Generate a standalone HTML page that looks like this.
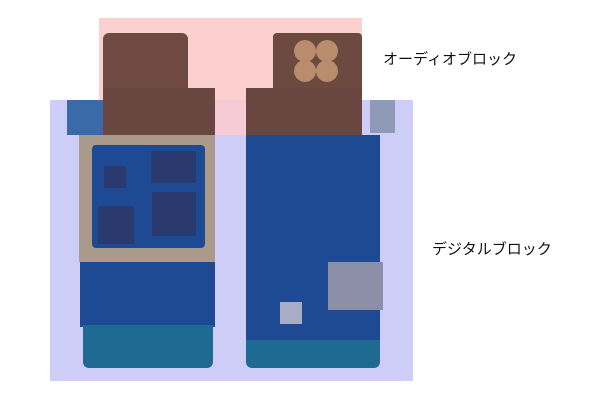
<!DOCTYPE html>
<html><head><meta charset="utf-8"><style>
body{margin:0;width:600px;height:400px;background:#fff;position:relative;overflow:hidden;font-family:"Liberation Sans","Noto Sans CJK JP",sans-serif}
div{position:absolute}
.t{font-size:15px;color:#111;white-space:nowrap}
</style></head><body>
<div style="left:99px;top:18px;width:263px;height:82px;background:#fdd0d0"></div>
<div style="left:50px;top:100px;width:363px;height:281px;background:#cdcdf8"></div>
<div style="left:99px;top:100px;width:263px;height:35px;background:#f6cbd6"></div>
<!-- left board -->
<div style="left:103px;top:33px;width:85px;height:60px;background:#6e4a42;border-radius:6px 6px 0 0"></div>
<div style="left:103px;top:88px;width:112px;height:47px;background:#6a4640"></div>
<div style="left:67px;top:100px;width:36px;height:35px;background:#3a6aa8"></div>
<div style="left:79px;top:135px;width:136px;height:127px;background:#a99a8c"></div>
<div style="left:92px;top:145px;width:113px;height:103px;background:#1e4a94;border-radius:4px"></div>
<div style="left:151px;top:151px;width:45px;height:32px;background:#2a3a6e"></div>
<div style="left:152px;top:192px;width:44px;height:44px;background:#2a3a6e"></div>
<div style="left:98px;top:206px;width:36px;height:38px;background:#2a3a6e"></div>
<div style="left:104px;top:166px;width:22px;height:22px;background:#2a3a6e"></div>
<div style="left:80px;top:262px;width:135px;height:65px;background:#1e4a94"></div>
<div style="left:83px;top:325px;width:130px;height:43px;background:#1f6a92;border-radius:0 0 6px 6px"></div>
<!-- right board -->
<div style="left:273px;top:33px;width:89px;height:60px;background:#6c4a40;border-radius:4px 4px 0 0"></div>
<div style="left:246px;top:88px;width:116px;height:47px;background:#6a4640"></div>
<div style="left:294px;top:40px;width:22px;height:22px;background:#b88c6c;border-radius:50%"></div>
<div style="left:316px;top:40px;width:22px;height:22px;background:#b88c6c;border-radius:50%"></div>
<div style="left:294px;top:60px;width:22px;height:22px;background:#b88c6c;border-radius:50%"></div>
<div style="left:316px;top:60px;width:22px;height:22px;background:#b88c6c;border-radius:50%"></div>
<div style="left:246px;top:135px;width:134px;height:205px;background:#1e4a94"></div>
<div style="left:370px;top:100px;width:25px;height:33px;background:#8e9ab8"></div>
<div style="left:328px;top:262px;width:55px;height:48px;background:#8c8fa8"></div>
<div style="left:280px;top:302px;width:22px;height:22px;background:#a8acc4"></div>
<div style="left:246px;top:340px;width:134px;height:28px;background:#1f6a92;border-radius:0 0 6px 6px"></div>
<div class="t" style="left:383px;top:48px">オーディオブロック</div>
<div class="t" style="left:432px;top:238px">デジタルブロック</div>
</body></html>
